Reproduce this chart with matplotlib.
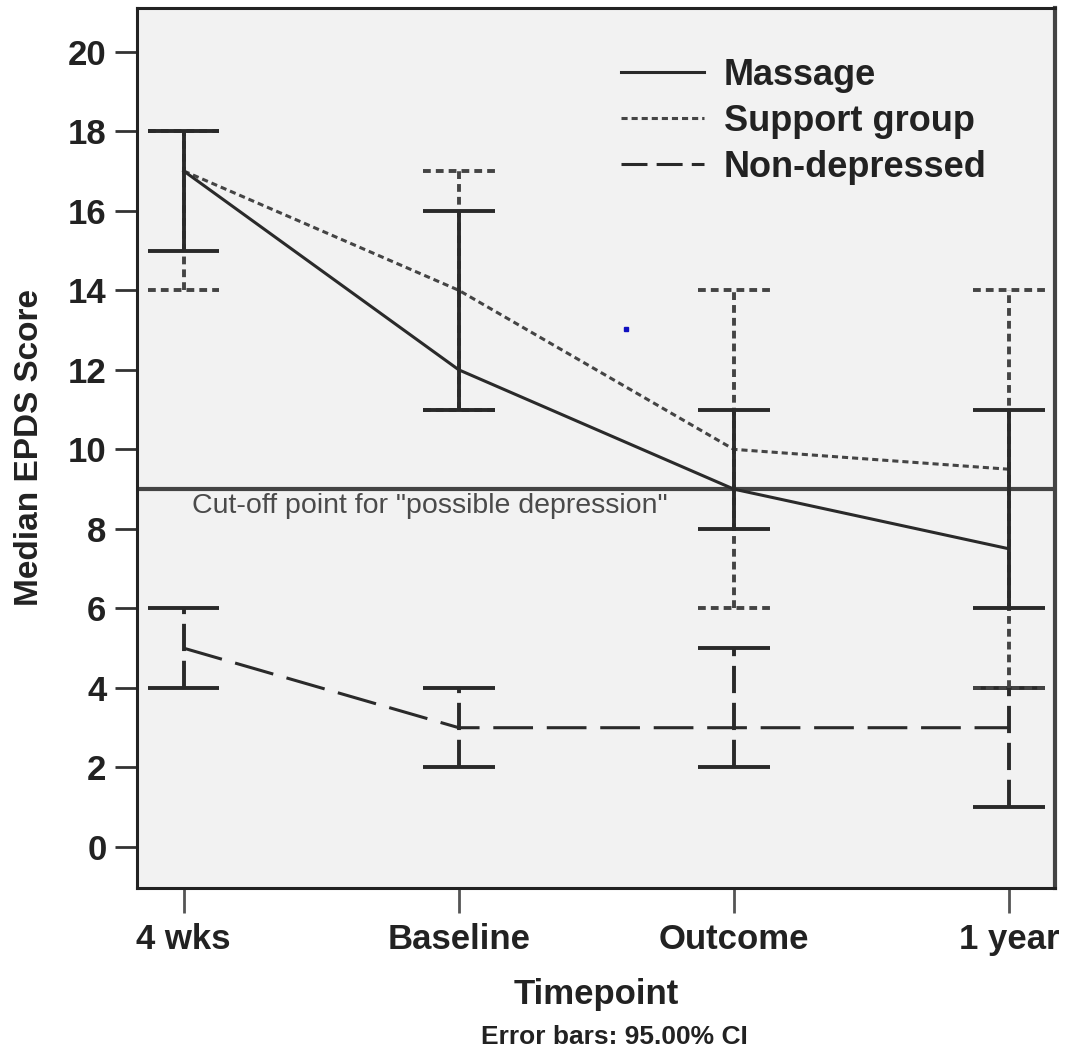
import matplotlib
matplotlib.use("Agg")
import matplotlib.pyplot as plt
from matplotlib.lines import Line2D
import numpy as np

# ---- data ----
timepoints = ["4 wks", "Baseline", "Outcome", "1 year"]
massage = [17, 12, 9, 7.5]
massage_lo = [15, 11, 8, 6]
massage_hi = [18, 16, 11, 11]
support = [17, 14, 10, 9.5]
support_lo = [14, 11, 6, 4]
support_hi = [18, 17, 14, 14]
nondep = [5, 3, 3, 3]
nondep_lo = [4, 2, 2, 1]
nondep_hi = [6, 4, 5, 4]
cutoff = 9
yticks = [0, 2, 4, 6, 8, 10, 12, 14, 16, 18, 20]
stray_x = [1.607]
stray_y = [13.03]

plt.rcParams['font.family'] = ['Liberation Sans', 'DejaVu Sans']

fig = plt.figure(figsize=(10.66, 10.59), dpi=100)
ax = fig.add_axes([0.1285, 0.1615, 0.8612, 0.831])
ax.set_facecolor('#f2f2f2')

x = np.arange(len(timepoints))
dk = '#2a2a2a'
lw_line = 2.2
lw_err = 2.8
capw = 0.13

ls_support = (0, (2.0, 1.3))
ls_nondep = (0, (13, 4.5))
ls_nondep_err = (0, (7, 2.5))

# cut-off line
ax.axhline(cutoff, color='#444444', lw=3.0, zorder=2)
ax.text(0.03, cutoff - 0.1, 'Cut-off point for "possible depression"',
        fontsize=20.5, color='#4a4a4a', ha='left', va='top', zorder=3)

def draw_series(vals, lo, hi, ls, ls_err, ls_cap, color, z):
    ax.plot(x, vals, color=color, lw=lw_line, linestyle=ls, zorder=z)
    ax.vlines(x, lo, hi, colors=color, linestyles=[ls_err], lw=lw_err, zorder=z)
    ax.hlines(lo, x - capw, x + capw, colors=color, linestyles=[ls_cap], lw=lw_err, zorder=z)
    ax.hlines(hi, x - capw, x + capw, colors=color, linestyles=[ls_cap], lw=lw_err, zorder=z)

draw_series(nondep, nondep_lo, nondep_hi, ls_nondep, ls_nondep_err, '-', dk, 4)
draw_series(support, support_lo, support_hi, ls_support, ls_support, ls_support, '#444444', 5)
draw_series(massage, massage_lo, massage_hi, '-', '-', '-', dk, 6)

ax.plot(stray_x, stray_y, 's', color='#1010c0', ms=3, zorder=7)

ax.set_xlim(-0.17, 3.168)
ax.set_ylim(-1.03, 21.1)
ax.set_xticks(x)
ax.set_xticklabels(timepoints, fontsize=25, fontweight='bold', color='#222222')
ax.set_yticks(yticks)
ax.set_yticklabels([str(v) for v in yticks], fontsize=25, fontweight='bold', color='#222222')
ax.tick_params(axis='y', length=16, width=2, color='#333333', pad=6)
ax.tick_params(axis='x', length=18, width=2, color='#555555', pad=7)

for s in ax.spines.values():
    s.set_linewidth(2.2)
    s.set_color('#222222')
ax.spines['right'].set_color('#444444')
ax.spines['right'].set_linewidth(3)

ax.set_xlabel('Timepoint', fontsize=25, fontweight='bold', color='#222222', labelpad=16)
ax.set_ylabel('Median EPDS Score', fontsize=24, fontweight='bold', color='#222222', labelpad=16)
fig.text(0.576, 0.021, 'Error bars: 95.00% CI', fontsize=19, fontweight='bold',
         color='#222222', ha='center', va='center')

handles = [Line2D([], [], color=dk, lw=lw_line, linestyle='-'),
           Line2D([], [], color='#444444', lw=lw_line, linestyle=ls_support),
           Line2D([], [], color=dk, lw=lw_line, linestyle=(0, (8.5, 3))),]
leg = ax.legend(handles, ['Massage', 'Support group', 'Non-depressed'],
                loc='upper left', bbox_to_anchor=(0.527, 0.943), frameon=False,
                borderpad=0, borderaxespad=0, handlelength=2.3, handletextpad=0.55,
                labelspacing=0.3, prop={'size': 26, 'weight': 'bold'})
for t in leg.get_texts():
    t.set_color('#222222')

fig.savefig('out.png', dpi=100)
